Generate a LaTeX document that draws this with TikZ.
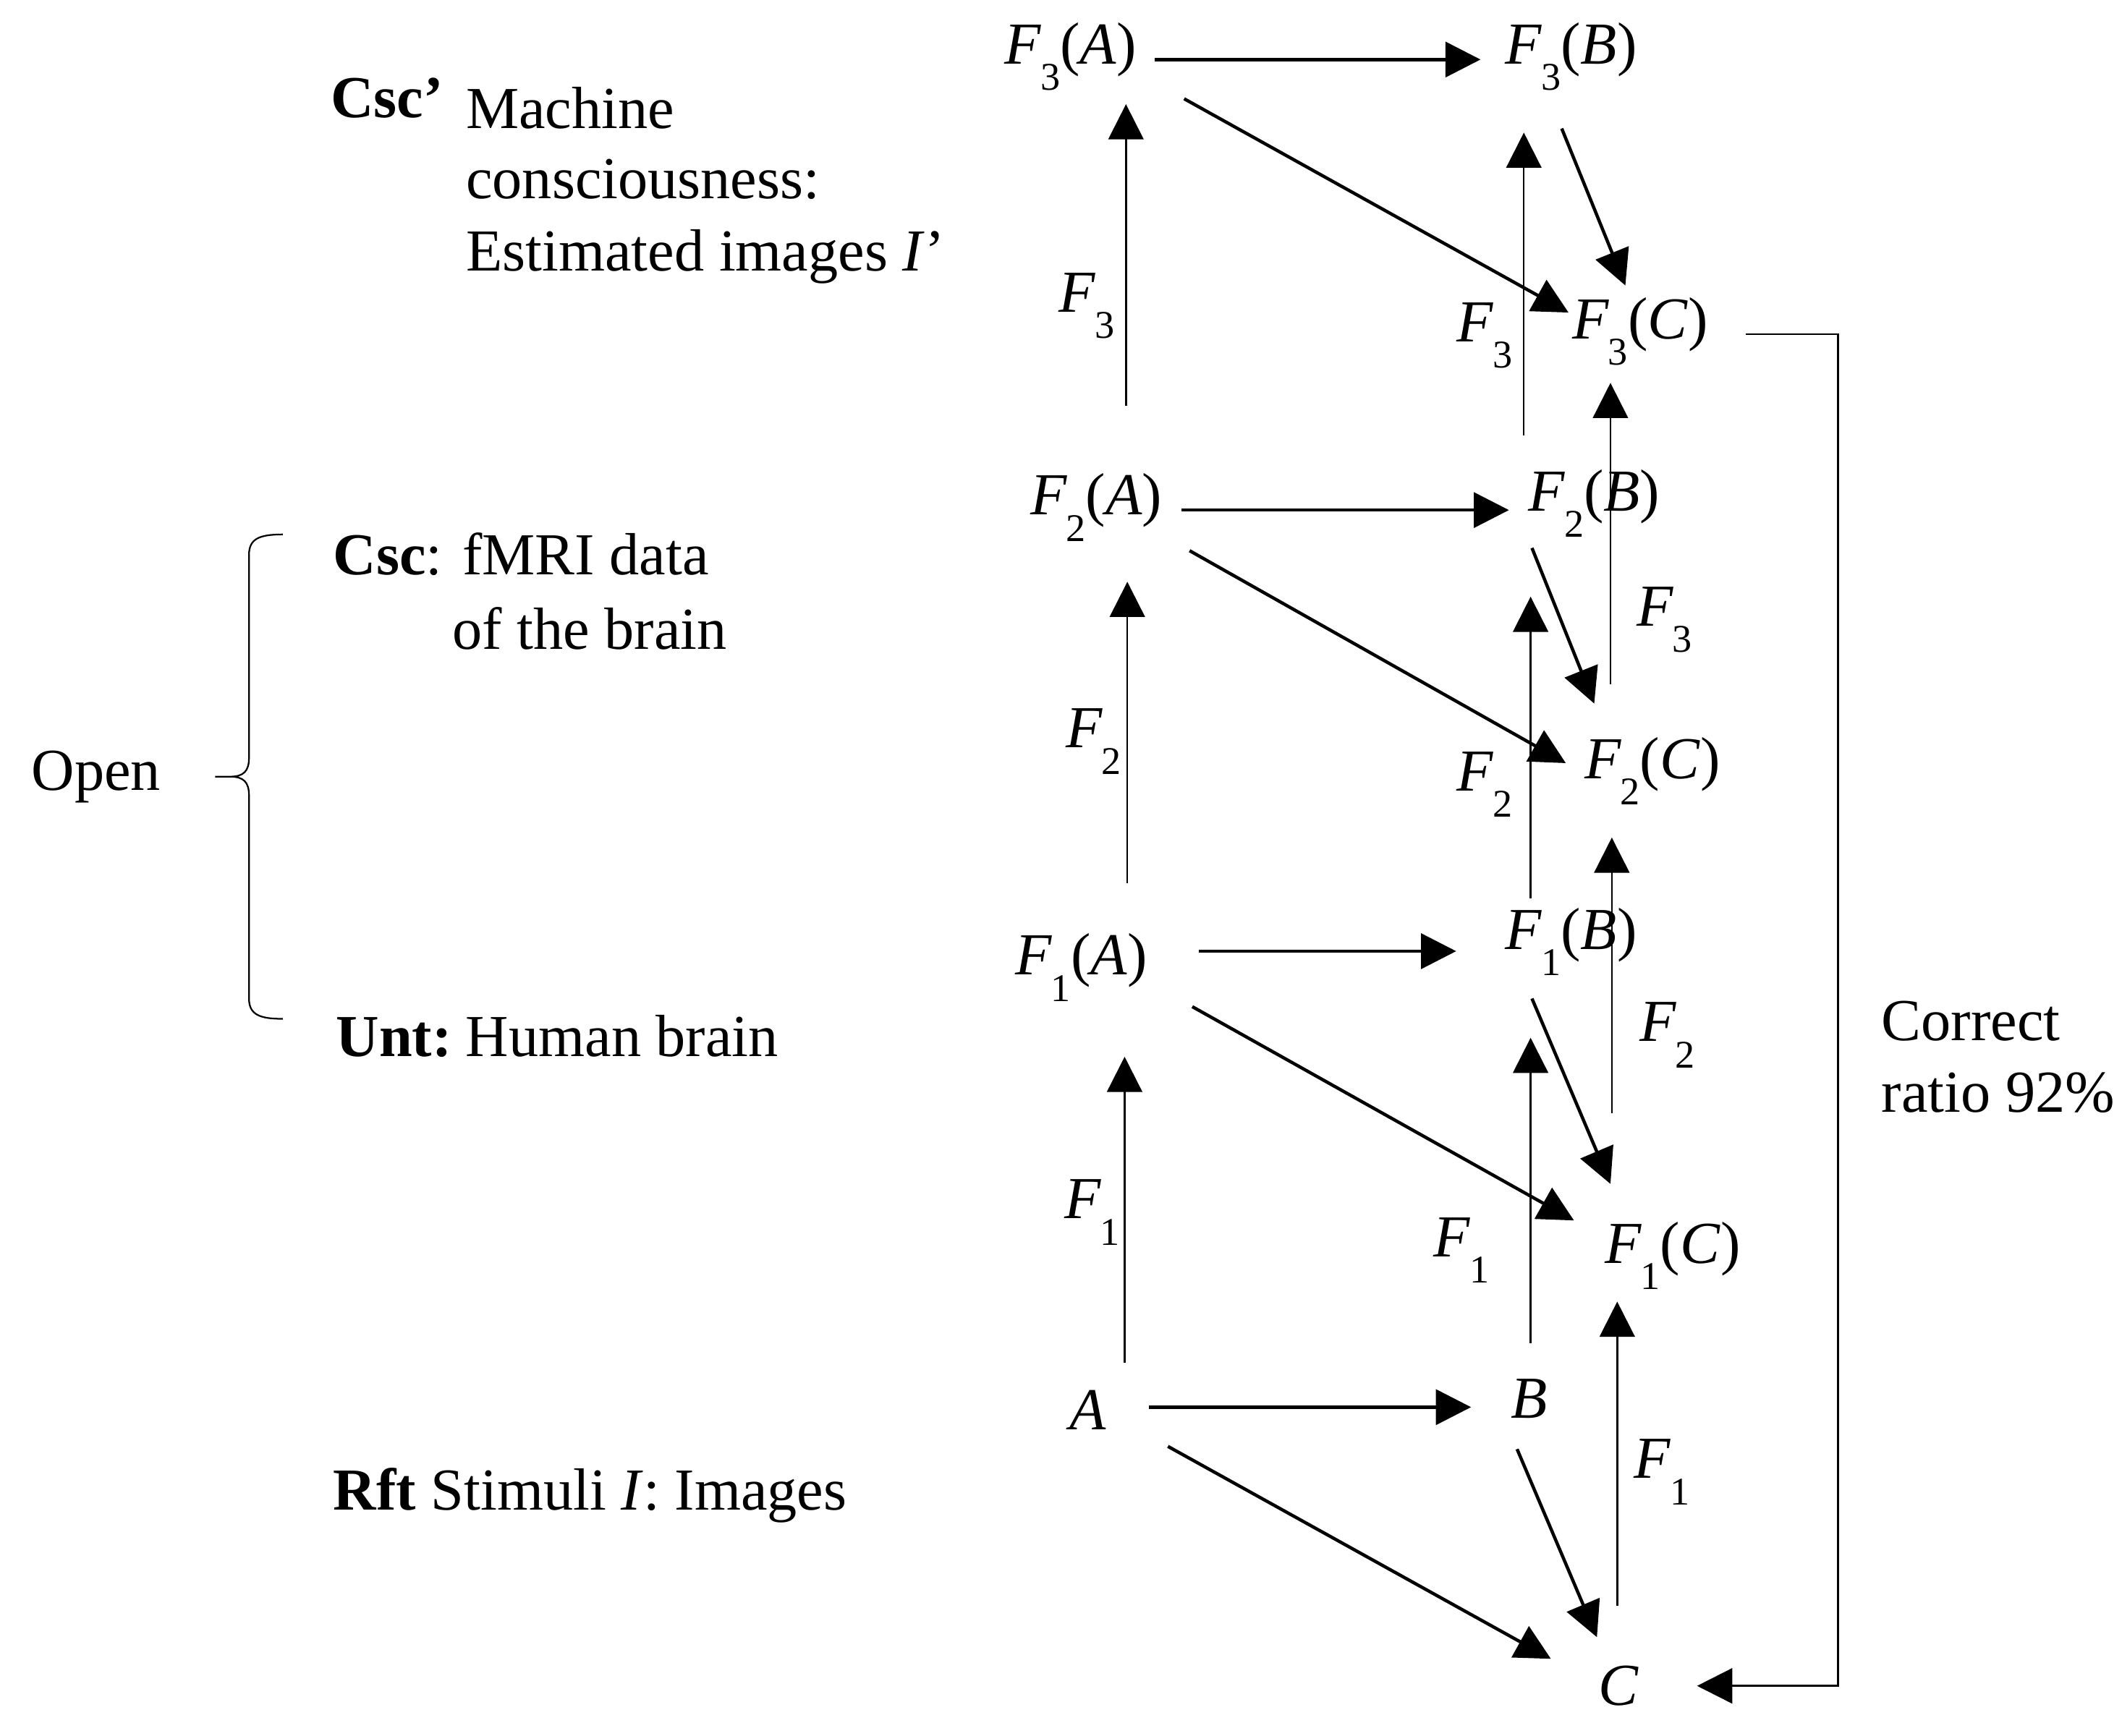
\documentclass[tikz,border=0pt]{standalone}
\usepackage{fontspec}
\setmainfont{Liberation Serif}
\usetikzlibrary{arrows.meta,calc}
\newcommand{\Fs}[1]{\textit{F}\kern-0.02em\raisebox{-0.44em}{\fontsize{14.5}{15}\selectfont #1}}
\newcommand{\FX}[2]{\Fs{#1}(\textit{#2})}
\begin{document}
\begin{tikzpicture}[x=0.5pt,y=-0.5pt,
  every node/.style={font=\fontsize{22}{26}\selectfont, inner sep=0pt},
  lbl/.style={anchor=base west},
  tharrow/.style={line width=1.2pt,-{Triangle[length=13pt,width=13pt]}},
  tnarrow/.style={line width=0.65pt,-{Triangle[length=13pt,width=13pt]}},
]
\useasboundingbox (0,0) rectangle (1568,1283);

% main nodes
\node (F3A) at (791,42) {\FX{3}{A}};
\node (F3B) at (1161,42) {\FX{3}{B}};
\node (F3C) at (1212,245) {\FX{3}{C}};
\node (F2A) at (810,375) {\FX{2}{A}};
\node (F2B) at (1178,372) {\FX{2}{B}};
\node (F2C) at (1221,570) {\FX{2}{C}};
\node (F1A) at (799,715) {\FX{1}{A}};
\node (F1B) at (1161,696) {\FX{1}{B}};
\node (F1C) at (1236,928) {\FX{1}{C}};
\node (A) at (804,1042) {\textit{A}};
\node (B) at (1130,1034) {\textit{B}};
\node (C) at (1196,1246) {\textit{C}};

% edge labels
\node (l3a) at (803,226) {\Fs{3}};
\node (l3b) at (1097,248) {\Fs{3}};
\node (l3c) at (1230,458) {\Fs{3}};
\node (l2a) at (808,548) {\Fs{2}};
\node (l2b) at (1097,580) {\Fs{2}};
\node (l2c) at (1232,765) {\Fs{2}};
\node (l1a) at (807,896) {\Fs{1}};
\node (l1b) at (1080,924) {\Fs{1}};
\node (l1c) at (1228,1088) {\Fs{1}};

% left texts
\node[lbl] (cscp) at (244,87) {\textbf{Csc’}};
\node[lbl] (mach1) at (344,95) {Machine};
\node[lbl] (mach2) at (344,147) {consciousness:};
\node[lbl] (mach3) at (344,200) {Estimated images \textit{I}’};
\node[lbl] (csc) at (246,425) {\textbf{Csc}: fMRI data};
\node[lbl] (csc2) at (334,480) {of the brain};
\node[lbl] (unt) at (248,781) {\textbf{Unt:}\hspace{-0.1em} Human brain};
\node[lbl] (rft) at (246,1116) {\textbf{Rft} Stimuli \textit{I}: Images};
\node[lbl] (open) at (23,584) {Open};
\node[lbl] (corr1) at (1390,769) {Correct};
\node[lbl] (corr2) at (1390,822) {ratio 92\%};

% brace
\draw[line width=0.6pt] (209,395) .. controls (192,395) and (184,398) .. (184,410)
  -- (184,560) .. controls (184,570) and (180,574) .. (170,574) -- (159,574)
  -- (170,574) .. controls (180,574) and (184,578) .. (184,588)
  -- (184,738) .. controls (184,750) and (192,753) .. (209,753);

% top level
\draw[tharrow] ($(F3A)+(62,2)$) -- ($(F3B)+(-67,2)$);
\draw[tharrow] ($(F3A)+(84,31)$) -- ($(F3C)+(-53,-14)$);
\draw[tharrow] ($(F3B)+(-7,53)$) -- ($(F3C)+(-11,-34)$);
\draw[tnarrow] ($(F2A)+(22,-75)$) -- ($(F3A)+(41,35)$);
\draw[tnarrow] ($(F2B)+(-52,-50)$) -- ($(F3B)+(-35,56)$);
\draw[tnarrow] ($(F2C)+(-31,-64)$) -- ($(F3C)+(-22,38)$);

% middle level
\draw[tharrow] ($(F2A)+(63,2)$) -- ($(F2B)+(-63,5)$);
\draw[tharrow] ($(F2A)+(69,32)$) -- ($(F2C)+(-64,-6)$);
\draw[tharrow] ($(F2B)+(-46,33)$) -- ($(F2C)+(-43,-50)$);
\draw[tnarrow] ($(F1A)+(34,-62)$) -- ($(F2A)+(23,55)$);
\draw[tnarrow] ($(F1B)+(-30,-32)$) -- ($(F2B)+(-47,69)$);
\draw[tnarrow] ($(F1C)+(-45,-105)$) -- ($(F2C)+(-30,49)$);

% lower level
\draw[tharrow] ($(F1A)+(87,-12)$) -- ($(F1B)+(-85,7)$);
\draw[tharrow] ($(F1A)+(82,29)$) -- ($(F1C)+(-73,-26)$);
\draw[tharrow] ($(F1B)+(-29,42)$) -- ($(F1C)+(-46,-53)$);
\draw[tnarrow] ($(A)+(27,-35)$) -- ($(F1A)+(32,66)$);
\draw[tnarrow] ($(B)+(1,-41)$) -- ($(F1B)+(-30,71)$);
\draw[tnarrow] ($(C)+(-1,-59)$) -- ($(F1C)+(-41,34)$);

% base level
\draw[tharrow] ($(A)+(45,-2)$) -- ($(B)+(-43,6)$);
\draw[tharrow] ($(A)+(59,27)$) -- ($(C)+(-50,-20)$);
\draw[tharrow] ($(B)+(-9,37)$) -- ($(C)+(-16,-36)$);

% feedback
\draw[line width=0.7pt,-{Triangle[length=13pt,width=13pt]}]
  ($(F3C)+(78,2)$) -- ++(68,0) |- ($(C)+(58,0)$);
\end{tikzpicture}
\end{document}
